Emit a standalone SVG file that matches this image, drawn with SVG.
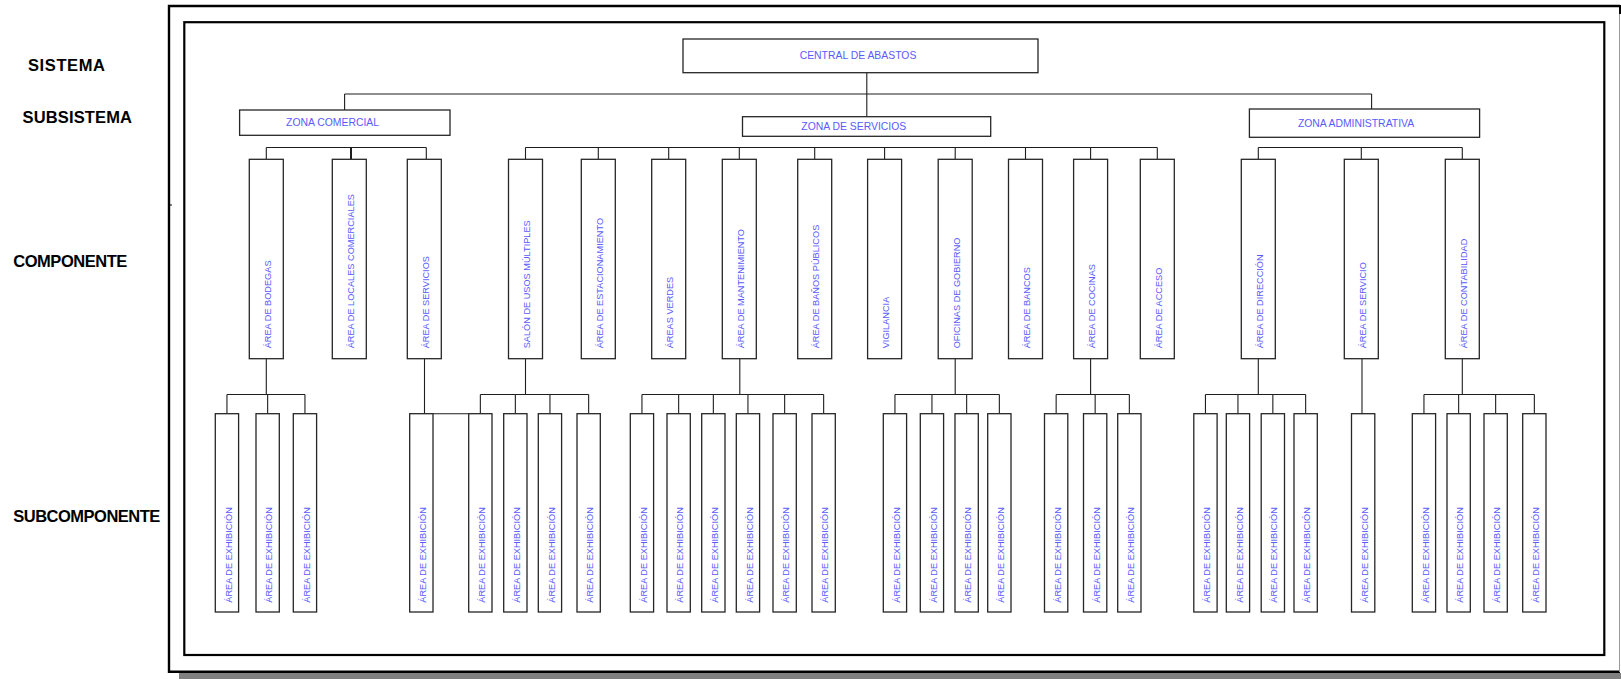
<svg xmlns="http://www.w3.org/2000/svg" width="1621" height="679" viewBox="0 0 1621 679">
<style>
  .bg{fill:#fff}
  .box{fill:#fff;stroke:#262626;stroke-width:1.3}
  .wire{fill:none;stroke:#1e1e1e;stroke-width:1.1}
  .lbl{font-family:"Liberation Sans",Arial,sans-serif;fill:#5a5aff}
  .h{font-size:10.4px;text-anchor:middle}
  .v{font-size:9.2px}
  .lvl{font-family:"Liberation Sans",Arial,sans-serif;font-weight:bold;font-size:16.5px;fill:#000}
</style>
<rect class="bg" x="0" y="0" width="1621" height="679"/>

<!-- sheet frame -->
<g id="frame">
  <rect x="179" y="673" width="1442" height="6" fill="#808080"/>
  <path d="M1620,6 H169 V671.7 H1620" fill="none" stroke="#000" stroke-width="2.4"/>
  <line x1="1619.5" y1="6" x2="1619.5" y2="672" stroke="#9a9a9a" stroke-width="1"/>
  <line x1="1620" y1="5" x2="1620" y2="14" stroke="#000" stroke-width="2"/>
  <line x1="169" y1="205" x2="172" y2="205" stroke="#000" stroke-width="1"/>
  <rect x="184.3" y="22.2" width="1420" height="632.8" fill="none" stroke="#000" stroke-width="2.2"/>
</g>

<!-- level captions -->
<g id="levels">
  <text class="lvl" x="28" y="70.5" textLength="77">SISTEMA</text>
  <text class="lvl" x="22.5" y="122.5" textLength="109.5">SUBSISTEMA</text>
  <text class="lvl" x="13.3" y="266.7" textLength="114">COMPONENTE</text>
  <text class="lvl" x="13.3" y="521.7" textLength="147">SUBCOMPONENTE</text>
</g>

<!-- connectors -->
<g id="connectors" class="wire">
  <path d="M866.8,72.7 V116.7 M344.6,94 H1371.6 M344.6,94 V110 M1371.6,94 V109"/>
  <!-- zona comercial -->
  <path d="M266.3,147.5 H426.3 M266.3,147.5 V159.3 M426.3,147.5 V159.3"/>
  <path d="M351,147.5 V159.3" stroke-width="2"/>
  <!-- zona de servicios -->
  <path d="M525.5,147.5 H1157.3 M525.5,147.5 V159.3 M598.3,147.5 V159.3 M668.7,147.5 V159.3 M739.3,147.5 V159.3 M814.7,147.5 V159.3 M884.6,147.5 V159.3 M955.2,147.5 V159.3 M1025.5,147.5 V159.3 M1090.6,147.5 V159.3 M1157.3,147.5 V159.3"/>
  <!-- zona administrativa -->
  <path d="M1258.3,147.5 H1462.3 M1258.3,147.5 V159.3 M1361.3,147.5 V159.3 M1462.3,147.5 V159.3"/>
  <!-- bodegas -->
  <path d="M266.3,358.7 V394.5 M226.95,394.5 H304.95 M226.95,394.5 V413.7 M267.65,394.5 V413.7 M304.95,394.5 V413.7"/>
  <!-- servicios (comercial) -->
  <path d="M424.5,358.7 V413.7 M432.7,413.7 H468.7"/>
  <!-- salon de usos multiples -->
  <path d="M525.5,358.7 V394.5 M480.35,394.5 H588.65 M480.35,394.5 V413.7 M515.35,394.5 V413.7 M549.95,394.5 V413.7 M588.65,394.5 V413.7"/>
  <!-- mantenimiento -->
  <path d="M739.8,358.7 V394.5 M641.95,394.5 H823.65 M641.95,394.5 V413.7 M678.65,394.5 V413.7 M713.35,394.5 V413.7 M747.95,394.5 V413.7 M784.65,394.5 V413.7 M823.65,394.5 V413.7"/>
  <!-- oficinas de gobierno -->
  <path d="M955.2,358.7 V394.5 M894.95,394.5 H999.35 M894.95,394.5 V413.7 M931.95,394.5 V413.7 M966.65,394.5 V413.7 M999.35,394.5 V413.7"/>
  <!-- cocinas -->
  <path d="M1090.6,358.7 V394.5 M1056.15,394.5 H1129.35 M1056.15,394.5 V413.7 M1095.15,394.5 V413.7 M1129.35,394.5 V413.7"/>
  <!-- direccion -->
  <path d="M1258.3,358.7 V394.5 M1205.45,394.5 H1305.65 M1205.45,394.5 V413.7 M1237.95,394.5 V413.7 M1272.85,394.5 V413.7 M1305.65,394.5 V413.7"/>
  <!-- servicio (administrativa) -->
  <path d="M1362,358.7 V413.7"/>
  <!-- contabilidad -->
  <path d="M1462.3,358.7 V394.5 M1423.95,394.5 H1534.35 M1423.95,394.5 V413.7 M1458.65,394.5 V413.7 M1495.65,394.5 V413.7 M1534.35,394.5 V413.7"/>
</g>

<!-- system -->
<g id="central-de-abastos">
  <rect class="box" x="683" y="39" width="355" height="33.7"/>
  <text class="lbl h" x="858" y="58.5">CENTRAL DE ABASTOS</text>
</g>

<!-- subsystems -->
<g id="zona-comercial">
  <rect class="box" x="239.6" y="110" width="210.4" height="25.3"/>
  <text class="lbl h" x="332.6" y="125.5">ZONA COMERCIAL</text>
</g>
<g id="zona-servicios">
  <rect class="box" x="742.5" y="116.7" width="248.2" height="19.6"/>
  <text class="lbl h" x="853.8" y="129.8">ZONA DE SERVICIOS</text>
</g>
<g id="zona-administrativa">
  <rect class="box" x="1249.4" y="109" width="230.2" height="28.3"/>
  <text class="lbl h" x="1356" y="127">ZONA ADMINISTRATIVA</text>
</g>

<!-- components -->
<g id="c-bodegas"><rect class="box" x="249.3" y="159.3" width="34" height="199.4"/><text class="lbl v" transform="translate(270.8,348.3) rotate(-90)">ÁREA DE BODEGAS</text></g>
<g id="c-locales"><rect class="box" x="332.3" y="159.3" width="34" height="199.4"/><text class="lbl v" transform="translate(353.8,348.3) rotate(-90)">ÁREA DE LOCALES COMERCIALES</text></g>
<g id="c-servicios"><rect class="box" x="407.3" y="159.3" width="34" height="199.4"/><text class="lbl v" transform="translate(428.8,348.3) rotate(-90)">ÁREA DE SERVICIOS</text></g>
<g id="c-salon"><rect class="box" x="508.5" y="159.3" width="34" height="199.4"/><text class="lbl v" transform="translate(530,348.3) rotate(-90)">SALÓN DE USOS MÚLTIPLES</text></g>
<g id="c-estacionamiento"><rect class="box" x="581.3" y="159.3" width="34" height="199.4"/><text class="lbl v" transform="translate(602.8,348.3) rotate(-90)">ÁREA DE ESTACIONAMIENTO</text></g>
<g id="c-verdes"><rect class="box" x="651.7" y="159.3" width="34" height="199.4"/><text class="lbl v" transform="translate(673.2,348.3) rotate(-90)">ÁREAS VERDES</text></g>
<g id="c-mantenimiento"><rect class="box" x="722.3" y="159.3" width="34" height="199.4"/><text class="lbl v" transform="translate(743.8,348.3) rotate(-90)">ÁREA DE MANTENIMIENTO</text></g>
<g id="c-banos"><rect class="box" x="797.7" y="159.3" width="34" height="199.4"/><text class="lbl v" transform="translate(819.2,348.3) rotate(-90)">ÁREA DE BAÑOS PÚBLICOS</text></g>
<g id="c-vigilancia"><rect class="box" x="867.6" y="159.3" width="34" height="199.4"/><text class="lbl v" transform="translate(889.1,348.3) rotate(-90)">VIGILANCIA</text></g>
<g id="c-gobierno"><rect class="box" x="938.2" y="159.3" width="34" height="199.4"/><text class="lbl v" transform="translate(959.7,348.3) rotate(-90)">OFICINAS DE GOBIERNO</text></g>
<g id="c-bancos"><rect class="box" x="1008.5" y="159.3" width="34" height="199.4"/><text class="lbl v" transform="translate(1030,348.3) rotate(-90)">ÁREA DE BANCOS</text></g>
<g id="c-cocinas"><rect class="box" x="1073.6" y="159.3" width="34" height="199.4"/><text class="lbl v" transform="translate(1095.1,348.3) rotate(-90)">ÁREA DE COCINAS</text></g>
<g id="c-acceso"><rect class="box" x="1140.3" y="159.3" width="34" height="199.4"/><text class="lbl v" transform="translate(1161.8,348.3) rotate(-90)">ÁREA DE ACCESO</text></g>
<g id="c-direccion"><rect class="box" x="1241.3" y="159.3" width="34" height="199.4"/><text class="lbl v" transform="translate(1262.8,348.3) rotate(-90)">ÁREA DE DIRECCIÓN</text></g>
<g id="c-servicio"><rect class="box" x="1344.3" y="159.3" width="34" height="199.4"/><text class="lbl v" transform="translate(1365.8,348.3) rotate(-90)">ÁREA DE SERVICIO</text></g>
<g id="c-contabilidad"><rect class="box" x="1445.3" y="159.3" width="34" height="199.4"/><text class="lbl v" transform="translate(1466.8,348.3) rotate(-90)">ÁREA DE CONTABILIDAD</text></g>

<!-- subcomponents -->
<g id="s-bodegas-1"><rect class="box" x="215.3" y="413.7" width="23.3" height="198.3"/><text class="lbl v" transform="translate(231.5,602.7) rotate(-90)">ÁREA DE EXHIBICIÓN</text></g>
<g id="s-bodegas-2"><rect class="box" x="256" y="413.7" width="23.3" height="198.3"/><text class="lbl v" transform="translate(272.2,602.7) rotate(-90)">ÁREA DE EXHIBICIÓN</text></g>
<g id="s-bodegas-3"><rect class="box" x="293.3" y="413.7" width="23.3" height="198.3"/><text class="lbl v" transform="translate(309.5,602.7) rotate(-90)">ÁREA DE EXHIBICIÓN</text></g>
<g id="s-servicios-1"><rect class="box" x="409.7" y="413.7" width="23.3" height="198.3"/><text class="lbl v" transform="translate(425.9,602.7) rotate(-90)">ÁREA DE EXHIBICIÓN</text></g>
<g id="s-salon-1"><rect class="box" x="468.7" y="413.7" width="23.3" height="198.3"/><text class="lbl v" transform="translate(484.9,602.7) rotate(-90)">ÁREA DE EXHIBICIÓN</text></g>
<g id="s-salon-2"><rect class="box" x="503.7" y="413.7" width="23.3" height="198.3"/><text class="lbl v" transform="translate(519.9,602.7) rotate(-90)">ÁREA DE EXHIBICIÓN</text></g>
<g id="s-salon-3"><rect class="box" x="538.3" y="413.7" width="23.3" height="198.3"/><text class="lbl v" transform="translate(554.5,602.7) rotate(-90)">ÁREA DE EXHIBICIÓN</text></g>
<g id="s-salon-4"><rect class="box" x="577" y="413.7" width="23.3" height="198.3"/><text class="lbl v" transform="translate(593.2,602.7) rotate(-90)">ÁREA DE EXHIBICIÓN</text></g>
<g id="s-mant-1"><rect class="box" x="630.3" y="413.7" width="23.3" height="198.3"/><text class="lbl v" transform="translate(646.5,602.7) rotate(-90)">ÁREA DE EXHIBICIÓN</text></g>
<g id="s-mant-2"><rect class="box" x="667" y="413.7" width="23.3" height="198.3"/><text class="lbl v" transform="translate(683.2,602.7) rotate(-90)">ÁREA DE EXHIBICIÓN</text></g>
<g id="s-mant-3"><rect class="box" x="701.7" y="413.7" width="23.3" height="198.3"/><text class="lbl v" transform="translate(717.9,602.7) rotate(-90)">ÁREA DE EXHIBICIÓN</text></g>
<g id="s-mant-4"><rect class="box" x="736.3" y="413.7" width="23.3" height="198.3"/><text class="lbl v" transform="translate(752.5,602.7) rotate(-90)">ÁREA DE EXHIBICIÓN</text></g>
<g id="s-mant-5"><rect class="box" x="773" y="413.7" width="23.3" height="198.3"/><text class="lbl v" transform="translate(789.2,602.7) rotate(-90)">ÁREA DE EXHIBICIÓN</text></g>
<g id="s-mant-6"><rect class="box" x="812" y="413.7" width="23.3" height="198.3"/><text class="lbl v" transform="translate(828.2,602.7) rotate(-90)">ÁREA DE EXHIBICIÓN</text></g>
<g id="s-gob-1"><rect class="box" x="883.3" y="413.7" width="23.3" height="198.3"/><text class="lbl v" transform="translate(899.5,602.7) rotate(-90)">ÁREA DE EXHIBICIÓN</text></g>
<g id="s-gob-2"><rect class="box" x="920.3" y="413.7" width="23.3" height="198.3"/><text class="lbl v" transform="translate(936.5,602.7) rotate(-90)">ÁREA DE EXHIBICIÓN</text></g>
<g id="s-gob-3"><rect class="box" x="955" y="413.7" width="23.3" height="198.3"/><text class="lbl v" transform="translate(971.2,602.7) rotate(-90)">ÁREA DE EXHIBICIÓN</text></g>
<g id="s-gob-4"><rect class="box" x="987.7" y="413.7" width="23.3" height="198.3"/><text class="lbl v" transform="translate(1003.9,602.7) rotate(-90)">ÁREA DE EXHIBICIÓN</text></g>
<g id="s-coc-1"><rect class="box" x="1044.5" y="413.7" width="23.3" height="198.3"/><text class="lbl v" transform="translate(1060.7,602.7) rotate(-90)">ÁREA DE EXHIBICIÓN</text></g>
<g id="s-coc-2"><rect class="box" x="1083.5" y="413.7" width="23.3" height="198.3"/><text class="lbl v" transform="translate(1099.7,602.7) rotate(-90)">ÁREA DE EXHIBICIÓN</text></g>
<g id="s-coc-3"><rect class="box" x="1117.7" y="413.7" width="23.3" height="198.3"/><text class="lbl v" transform="translate(1133.9,602.7) rotate(-90)">ÁREA DE EXHIBICIÓN</text></g>
<g id="s-dir-1"><rect class="box" x="1193.8" y="413.7" width="23.3" height="198.3"/><text class="lbl v" transform="translate(1210,602.7) rotate(-90)">ÁREA DE EXHIBICIÓN</text></g>
<g id="s-dir-2"><rect class="box" x="1226.3" y="413.7" width="23.3" height="198.3"/><text class="lbl v" transform="translate(1242.5,602.7) rotate(-90)">ÁREA DE EXHIBICIÓN</text></g>
<g id="s-dir-3"><rect class="box" x="1261.2" y="413.7" width="23.3" height="198.3"/><text class="lbl v" transform="translate(1277.4,602.7) rotate(-90)">ÁREA DE EXHIBICIÓN</text></g>
<g id="s-dir-4"><rect class="box" x="1294" y="413.7" width="23.3" height="198.3"/><text class="lbl v" transform="translate(1310.2,602.7) rotate(-90)">ÁREA DE EXHIBICIÓN</text></g>
<g id="s-serv-1"><rect class="box" x="1351.5" y="413.7" width="23.3" height="198.3"/><text class="lbl v" transform="translate(1367.7,602.7) rotate(-90)">ÁREA DE EXHIBICIÓN</text></g>
<g id="s-cont-1"><rect class="box" x="1412.3" y="413.7" width="23.3" height="198.3"/><text class="lbl v" transform="translate(1428.5,602.7) rotate(-90)">ÁREA DE EXHIBICIÓN</text></g>
<g id="s-cont-2"><rect class="box" x="1447" y="413.7" width="23.3" height="198.3"/><text class="lbl v" transform="translate(1463.2,602.7) rotate(-90)">ÁREA DE EXHIBICIÓN</text></g>
<g id="s-cont-3"><rect class="box" x="1484" y="413.7" width="23.3" height="198.3"/><text class="lbl v" transform="translate(1500.2,602.7) rotate(-90)">ÁREA DE EXHIBICIÓN</text></g>
<g id="s-cont-4"><rect class="box" x="1522.7" y="413.7" width="23.3" height="198.3"/><text class="lbl v" transform="translate(1538.9,602.7) rotate(-90)">ÁREA DE EXHIBICIÓN</text></g>
</svg>
